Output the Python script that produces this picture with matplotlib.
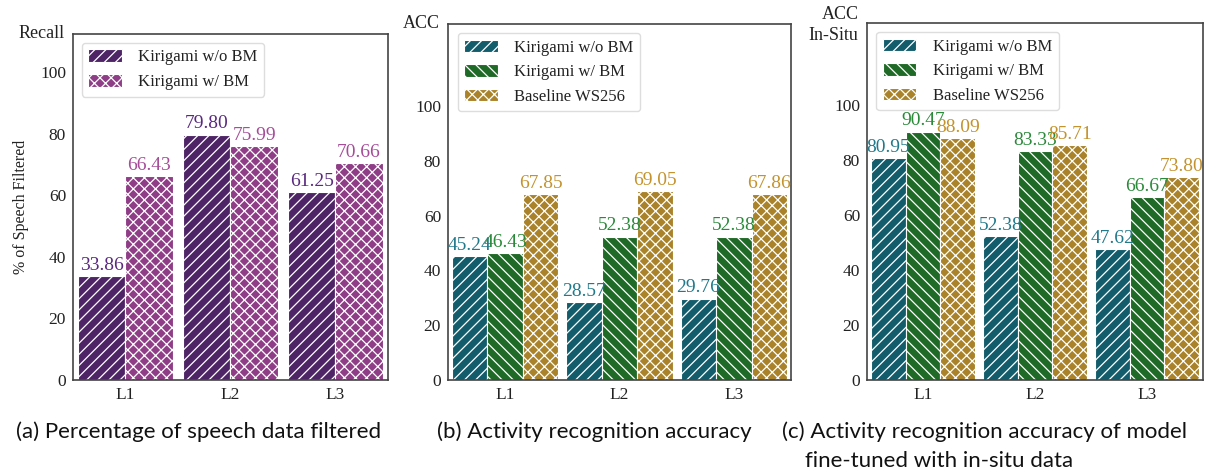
import numpy as np
import matplotlib as mpl

mpl.use("Agg")

import matplotlib.pyplot as plt

# --- data ---
levels = ["L1", "L2", "L3"]

recall_wo_bm = [33.86, 79.80, 61.25]
recall_w_bm = [66.43, 75.99, 70.66]

acc_wo_bm = [45.24, 28.57, 29.76]
acc_w_bm = [46.43, 52.38, 52.38]
acc_baseline = [67.85, 69.05, 67.86]

insitu_wo_bm = [80.95, 52.38, 47.62]
insitu_w_bm = [90.47, 83.33, 66.67]
insitu_baseline = [88.09, 85.71, 73.80]

names_a = ["Kirigami w/o BM", "Kirigami w/ BM"]
names_bc = ["Kirigami w/o BM", "Kirigami w/ BM", "Baseline WS256"]

captions = [
    "(a) Percentage of speech data filtered",
    "(b) Activity recognition accuracy",
    "(c) Activity recognition accuracy of model",
]
caption_c2 = "fine-tuned with in-situ data"

SERIF = ["Liberation Serif", "DejaVu Serif"]
SANS = ["Lato", "DejaVu Sans"]

mpl.rcParams.update({
    "font.family": SERIF,
    "hatch.linewidth": 0.9,
    "axes.edgecolor": "#444444",
    "axes.linewidth": 1.2,
})

W, H = 1216, 476
fig = plt.figure(figsize=(W / 100, H / 100), dpi=100)


def px_axes(l, r, t, b):
    return fig.add_axes([l / W, (H - b) / H, (r - l) / W, (b - t) / H])


def grouped(ax, series, fills, text_cols, hatches, names, width, ylim, title,
            title_dy=0):
    x = np.arange(len(levels))
    n = len(series)
    for i, (vals, fc, tc, h, nm) in enumerate(zip(series, fills, text_cols, hatches, names)):
        pos = x + (i - (n - 1) / 2) * width
        bars = ax.bar(pos, vals, width, color=fc, edgecolor="white",
                      linewidth=0.8, hatch=h, label=nm)
        for b, v in zip(bars, vals):
            ax.annotate(f"{v:.2f}", (b.get_x() + b.get_width() / 2, v),
                        xytext=(0, 1.5), textcoords="offset points",
                        ha="center", va="bottom", fontsize=14, color=tc)
    ax.set_xlim(-0.5, len(levels) - 0.5)
    ax.set_ylim(*ylim)
    ax.set_xticks(x)
    ax.set_xticklabels(levels)
    ax.set_yticks([0, 20, 40, 60, 80, 100])
    ax.tick_params(length=0, labelsize=12.5, colors="#222222", pad=5)
    ax.annotate(title, (0, 1), xycoords="axes fraction", xytext=(-6, title_dy),
                textcoords="offset points", ha="right", va="center",
                fontsize=13, color="#222222", linespacing=1.25)
    leg = ax.legend(loc="upper left", fontsize=12, handlelength=2.0,
                    handleheight=0.8, borderpad=0.4, labelspacing=0.5,
                    handletextpad=1.0, borderaxespad=0.0, fancybox=True,
                    framealpha=1.0, edgecolor="#dddddd",
                    bbox_to_anchor=(0.028, 0.975))
    for t in leg.get_texts():
        t.set_color("#222222")
    return ax


ax_a = px_axes(73, 388, 34, 380)
grouped(ax_a, [recall_wo_bm, recall_w_bm], ["#4e2466", "#8e3d86"],
        ["#5a2a7e", "#a64c99"], ["///", "xxx"], names_a, 0.45, (0, 112.5),
        "Recall")
ax_a.set_ylabel("% of Speech Filtered", fontsize=11.5, color="#222222", labelpad=8)

ax_b = px_axes(448, 791, 24, 380)
grouped(ax_b, [acc_wo_bm, acc_w_bm, acc_baseline],
        ["#125c6b", "#1f6a27", "#a9822a"], ["#21798a", "#2b8a3a", "#c4932e"],
        ["///", "\\\\\\", "xxx"], names_bc, 0.31, (0, 130), "ACC")

ax_c = px_axes(867, 1203, 23, 380)
grouped(ax_c, [insitu_wo_bm, insitu_w_bm, insitu_baseline],
        ["#125c6b", "#1f6a27", "#a9822a"], ["#21798a", "#2b8a3a", "#c4932e"],
        ["///", "\\\\\\", "xxx"], names_bc, 0.31, (0, 130), "ACC\nIn-Situ",
        title_dy=-1.5)

for xpx, txt in zip([16, 437, 782], captions):
    fig.text(xpx / W, 1 - 432 / H, txt, ha="left", va="center",
             fontsize=16, family=SANS, color="#111111")
fig.text(805 / W, 1 - 461 / H, caption_c2, ha="left", va="center",
         fontsize=16, family=SANS, color="#111111")

fig.savefig("out.png", dpi=100, facecolor="white")
